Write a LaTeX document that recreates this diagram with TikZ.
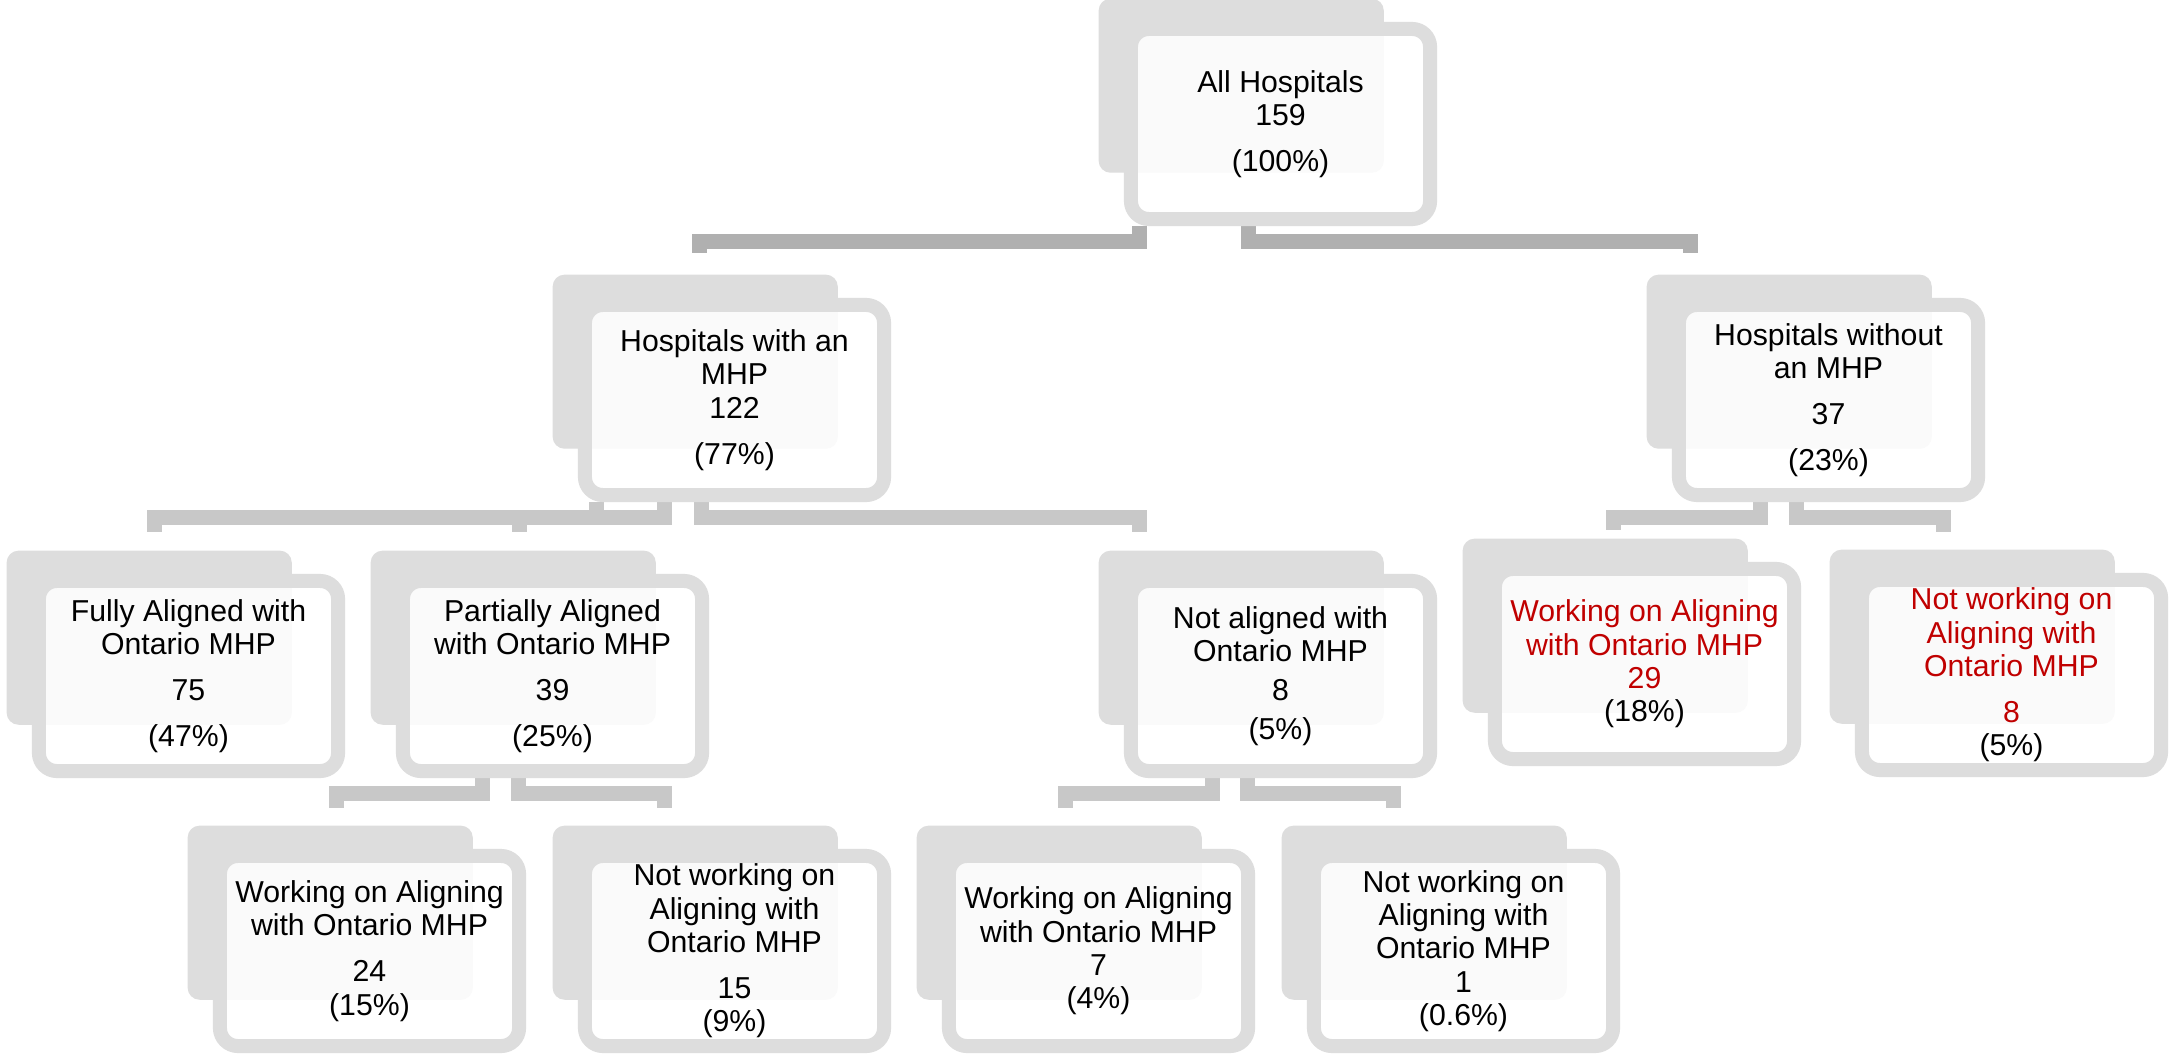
\documentclass[tikz,border=0pt]{standalone}
\usepackage{fontspec}
\setmainfont{Liberation Sans}
\usetikzlibrary{backgrounds}
\definecolor{boxgray}{HTML}{DDDDDD}
\definecolor{linkgray}{HTML}{C8C8C8}
\definecolor{topgray}{HTML}{B0B0B0}
\definecolor{hred}{HTML}{C00000}

\begin{document}
\begin{tikzpicture}[
    x=0.01cm, y=-0.01cm,
    front/.style={draw=boxgray, line width=0.14cm, rounded corners=0.18cm,
      fill=white, fill opacity=0.86, text opacity=1,
      minimum width=2.99cm, minimum height=1.90cm, inner sep=0pt,
      align=center, font=\fontsize{8.6}{9.5}\selectfont},
    back/.style={fill=boxgray, rounded corners=0.12cm, anchor=north west,
      minimum width=2.85cm, minimum height=1.74cm, inner sep=0pt},
    link/.style={draw=linkgray, line width=0.15cm, line join=miter},
    toplink/.style={link, draw=topgray},
    hot/.style={text=hred}]
  \useasboundingbox (0,0) rectangle (2170,1055);
  \node[front] (allh) at (1280.5,124) {All Hospitals\\159\\[3.5pt](100\%)};
  \node[front] (withm) at (734.5,400) {Hospitals with an\\MHP\\122\\[3.5pt](77\%)};
  \node[front] (withoutm) at (1828.5,400) {Hospitals without\\an MHP\\[3.5pt]37\\[3.5pt](23\%)};
  \node[front, hot] (wkR) at (1644.5,664) {Working on Aligning\\with Ontario MHP\\29\\\textcolor{black}{(18\%)}};
  \node[front, hot] (nwkR) at (2011.5,675) {Not working on\\Aligning with\\Ontario MHP\\[3.5pt]8\\\textcolor{black}{(5\%)}};
  \node[front] (fully) at (188.5,676) {Fully Aligned with\\Ontario MHP\\[3.5pt]75\\[3.5pt](47\%)};
  \node[front] (partial) at (552.5,676) {Partially Aligned\\with Ontario MHP\\[3.5pt]39\\[3.5pt](25\%)};
  \node[front] (notal) at (1280.5,676) {Not aligned with\\Ontario MHP\\[1.5pt]8\\[1.5pt](5\%)};
  \node[front] (wkP) at (369.5,951) {Working on Aligning\\with Ontario MHP\\[3.5pt]24\\(15\%)};
  \node[front] (nwkP) at (734.5,951) {Not working on\\Aligning with\\Ontario MHP\\[3.5pt]15\\(9\%)};
  \node[front] (wkN) at (1098.5,951) {Working on Aligning\\with Ontario MHP\\7\\(4\%)};
  \node[front] (nwkN) at (1463.5,951) {Not working on\\Aligning with\\Ontario MHP\\1\\(0.6\%)};
  \coordinate (in-withm) at (699,253);
  \coordinate (in-withoutm) at (1690.5,253);
  \coordinate (in-fully) at (154.5,532);
  \coordinate (in-partial) at (519.5,532);
  \coordinate (in-notal) at (1139,532);
  \coordinate (in-wkR) at (1613,530);
  \coordinate (in-nwkR) at (1943,532);
  \coordinate (in-wkP) at (336.5,808);
  \coordinate (in-nwkP) at (664.5,808);
  \coordinate (in-wkN) at (1065.5,808);
  \coordinate (in-nwkN) at (1393.5,808);
  \begin{scope}[on background layer]
    \fill[white] (0,0) rectangle (2170,1055);
    \foreach \n in {allh,withm,withoutm,wkR,nwkR,fully,partial,notal,wkP,nwkP,wkN,nwkN}
      \node[back] (\n-bk) at ([shift={(-26,-24)}]\n.north west) {};
    \draw[toplink] (allh.south -| 1139,0) -- ++(0,15.5) -| (in-withm);
    \draw[toplink] (allh.south -| 1248,0) -- ++(0,15.5) -| (in-withoutm);
    \draw[link] (withm.south -| 664.5,0) -- ++(0,15.5) -| (in-fully);
    \draw[link] (withm.south -| 596,0) -- ++(0,15.5) -| (in-partial);
    \draw[link] (withm.south -| 701,0) -- ++(0,15.5) -| (in-notal);
    \draw[link] (withoutm.south -| 1760,0) -- ++(0,15.5) -| (in-wkR);
    \draw[link] (withoutm.south -| 1796,0) -- ++(0,15.5) -| (in-nwkR);
    \draw[link] (partial.south -| 482.5,0) -- ++(0,15) -| (in-wkP);
    \draw[link] (partial.south -| 518.5,0) -- ++(0,15) -| (in-nwkP);
    \draw[link] (notal.south -| 1212,0) -- ++(0,15) -| (in-wkN);
    \draw[link] (notal.south -| 1247.5,0) -- ++(0,15) -| (in-nwkN);
  \end{scope}
\end{tikzpicture}
\end{document}
